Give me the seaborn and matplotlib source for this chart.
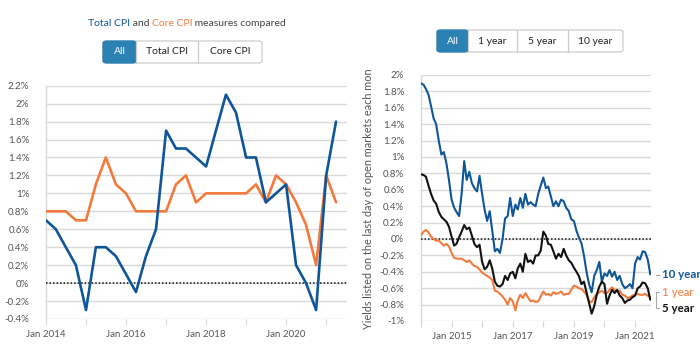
import numpy as np
import pandas as pd
import matplotlib
matplotlib.use("Agg")
import matplotlib.pyplot as plt
import seaborn as sns
from matplotlib.patches import FancyBboxPatch, Rectangle
from matplotlib.lines import Line2D
from matplotlib.transforms import Bbox, TransformedBbox

# ---------------- data ----------------
cpi_dates = pd.date_range("2014-01-01", "2021-04-01", freq="QS")
total_cpi = [0.7, 0.6, 0.4, 0.2, -0.3, 0.4, 0.4, 0.3, 0.1, -0.1, 0.3, 0.6,
             1.7, 1.5, 1.5, 1.4, 1.3, 1.7, 2.1, 1.9, 1.4, 1.4, 0.9, 1.0,
             1.1, 0.2, 0.0, -0.3, 1.2, 1.8]
core_cpi = [0.8, 0.8, 0.8, 0.7, 0.7, 1.1, 1.4, 1.1, 1.0, 0.8, 0.8, 0.8,
            0.8, 1.1, 1.2, 0.9, 1.0, 1.0, 1.0, 1.0, 1.0, 1.1, 0.9, 1.2,
            1.1, 0.9, 0.65, 0.2, 1.2, 0.9]

yield_dates = pd.date_range("2014-01-01", "2021-07-01", freq="MS")
yield_10 = [1.90, 1.88, 1.83, 1.76, 1.62, 1.47, 1.40, 1.20, 1.03, 1.06, 0.92, 0.72,
            0.48, 0.38, 0.33, 0.28, 0.55, 0.95, 0.72, 0.82, 0.68, 0.62, 0.58, 0.77,
            0.55, 0.35, 0.22, 0.34, 0.10, -0.15, -0.12, -0.17, 0.00, 0.25, 0.28, 0.50,
            0.28, 0.42, 0.36, 0.50, 0.38, 0.55, 0.42, 0.45, 0.42, 0.40, 0.55, 0.65,
            0.75, 0.62, 0.64, 0.52, 0.40, 0.46, 0.40, 0.48, 0.46, 0.38, 0.34, 0.24,
            0.22, 0.10, 0.02, -0.05, -0.20, -0.40, -0.55, -0.65, -0.45, -0.38, -0.28, -0.52,
            -0.42, -0.45, -0.38, -0.46, -0.40, -0.50, -0.45, -0.55, -0.60, -0.58, -0.55, -0.60,
            -0.30, -0.22, -0.25, -0.15, -0.16, -0.25, -0.43]
yield_1 = [0.04, 0.09, 0.11, 0.08, 0.03, 0.00, -0.02, -0.02, -0.05, -0.08, -0.06, -0.09,
           -0.17, -0.23, -0.24, -0.24, -0.24, -0.26, -0.28, -0.26, -0.30, -0.33, -0.34, -0.37,
           -0.41, -0.43, -0.45, -0.47, -0.50, -0.63, -0.64, -0.67, -0.70, -0.74, -0.80, -0.72,
           -0.76, -0.87, -0.75, -0.68, -0.72, -0.66, -0.71, -0.76, -0.75, -0.77, -0.76, -0.70,
           -0.64, -0.68, -0.67, -0.69, -0.65, -0.67, -0.66, -0.64, -0.68, -0.67, -0.67, -0.62,
           -0.57, -0.58, -0.60, -0.61, -0.64, -0.68, -0.76, -0.77, -0.71, -0.67, -0.65, -0.63,
           -0.66, -0.66, -0.62, -0.59, -0.62, -0.64, -0.63, -0.68, -0.69, -0.72, -0.71, -0.69,
           -0.68, -0.67, -0.68, -0.68, -0.67, -0.69, -0.71]
yield_5 = [0.79, 0.78, 0.76, 0.65, 0.55, 0.47, 0.43, 0.33, 0.27, 0.24, 0.21, 0.15,
           0.03, -0.08, -0.06, 0.02, 0.09, 0.17, 0.12, 0.14, 0.04, -0.06, -0.10, -0.07,
           -0.28, -0.37, -0.34, -0.26, -0.36, -0.52, -0.57, -0.58, -0.55, -0.45, -0.50, -0.42,
           -0.40, -0.48, -0.36, -0.30, -0.40, -0.18, -0.28, -0.26, -0.30, -0.20, -0.20, -0.14,
           0.09, 0.04, -0.06, -0.07, -0.15, -0.24, -0.18, -0.22, -0.12, -0.20, -0.26, -0.29,
           -0.35, -0.40, -0.45, -0.55, -0.52, -0.65, -0.78, -0.91, -0.82, -0.68, -0.58, -0.52,
           -0.55, -0.79, -0.69, -0.62, -0.66, -0.62, -0.69, -0.72, -0.78, -0.75, -0.74, -0.71,
           -0.69, -0.60, -0.58, -0.53, -0.54, -0.60, -0.74]

left_yticks = [-0.4, -0.2, 0, 0.2, 0.4, 0.6, 0.8, 1.0, 1.2, 1.4, 1.6, 1.8, 2.0, 2.2]
left_ylabels = ["-0.4%", "-0.2%", "0%", "0.2%", "0.4%", "0.6%", "0.8%", "1%",
                "1.2%", "1.4%", "1.6%", "1.8%", "2%", "2.2%"]
left_xticks = pd.date_range("2014-01-01", "2021-01-01", freq="YS")
left_xlabels = ["Jan 2014", "", "Jan 2016", "", "Jan 2018", "", "Jan 2020", ""]

right_yticks = [-1.0, -0.8, -0.6, -0.4, -0.2, 0, 0.2, 0.4, 0.6, 0.8, 1.0, 1.2, 1.4, 1.6, 1.8, 2.0]
right_ylabels = ["-1%", "-0.8%", "-0.6%", "-0.4%", "-0.2%", "0%", "0.2%", "0.4%", "0.6%",
                 "0.8%", "1%", "1.2%", "1.4%", "1.6%", "1.8%", "2%"]
right_xticks = pd.date_range("2014-01-01", "2021-01-01", freq="YS")
right_xlabels = ["", "Jan 2015", "", "Jan 2017", "", "Jan 2019", "", "Jan 2021"]

left_buttons = ["All", "Total CPI", "Core CPI"]
right_buttons = ["All", "1 year", "5 year", "10 year"]

# ---------------- style ----------------
BLUE = "#0f5699"
ORANGE = "#f37a3c"
BLACK = "#111111"
BTN = "#2b80b4"
GRID = "#d9d9d9"
TICK = "#555555"

sns.set_theme(style="white")
plt.rcParams["font.family"] = ["Lato", "DejaVu Sans"]

W, H = 700, 355
fig = plt.figure(figsize=(7.0, 3.55), dpi=100)

def fx(px):
    return px / W

def fy(py):
    return 1 - py / H

xmin = pd.Timestamp("2014-01-01")
xmax = pd.Timestamp("2021-07-10")

def style_axes(ax, yticks, ylabels, xticks, xlabels, ylim):
    ax.set_ylim(*ylim)
    ax.set_xlim(xmin, xmax)
    ax.set_yticks(yticks)
    ax.set_yticklabels(ylabels)
    ax.set_xticks(xticks)
    ax.set_xticklabels(xlabels)
    ax.grid(axis="y", color=GRID, linewidth=1.0)
    ax.grid(axis="x", visible=False)
    for s in ["top", "right", "bottom"]:
        ax.spines[s].set_visible(False)
    ax.spines["left"].set_color(GRID)
    ax.spines["left"].set_linewidth(1.0)
    ax.tick_params(axis="y", length=0, pad=12, labelsize=7, labelcolor=TICK)
    ax.tick_params(axis="x", length=4, width=0.9, color=GRID, direction="out",
                   pad=4, labelsize=7, labelcolor=TICK, bottom=True)
    ax.set_xlabel("")
    ax.set_ylabel("")
    ax.axhline(0, color=BLACK, linewidth=1.1, linestyle=(0, (1, 1.3)), zorder=3)

# ---------------- left chart ----------------
axL = fig.add_axes([fx(46), fy(319), fx(347) - fx(46), fy(85.7) - fy(319)])
sns.lineplot(x=cpi_dates, y=core_cpi, ax=axL, color=ORANGE, linewidth=1.9, zorder=4)
sns.lineplot(x=cpi_dates, y=total_cpi, ax=axL, color=BLUE, linewidth=1.9, zorder=5)
style_axes(axL, left_yticks, left_ylabels, left_xticks, left_xlabels, (-0.4, 2.2))
for ln in axL.get_lines():
    ln.set_solid_joinstyle("round")
    ln.set_solid_capstyle("round")

# ---------------- right chart ----------------
axR = fig.add_axes([fx(421), fy(321), fx(651) - fx(421), fy(75) - fy(321)])
sns.lineplot(x=yield_dates, y=yield_1, ax=axR, color=ORANGE, linewidth=1.5, zorder=4)
sns.lineplot(x=yield_dates, y=yield_10, ax=axR, color=BLUE, linewidth=1.5, zorder=5)
sns.lineplot(x=yield_dates, y=yield_5, ax=axR, color=BLACK, linewidth=1.5, zorder=6)
style_axes(axR, right_yticks, right_ylabels, right_xticks, right_xlabels, (-1.0, 2.0))
for ln in axR.get_lines():
    ln.set_solid_joinstyle("round")

# ---------------- title (multi-coloured) ----------------
renderer = fig.canvas.get_renderer()
parts = [("Total CPI", BLUE), (" and ", "#444444"), ("Core CPI", ORANGE),
         (" measures compared", "#444444")]
texts = [fig.text(0, fy(24), p, color=c, fontsize=7.5, va="center", ha="left")
         for p, c in parts]
widths = [t.get_window_extent(renderer).width for t in texts]
x0 = 187 - sum(widths) / 2
for t, w in zip(texts, widths):
    t.set_x(fx(x0))
    x0 += w

# ---------------- buttons ----------------
def buttons(labels, edges, top, bottom):
    outer = FancyBboxPatch((fx(edges[0]), fy(bottom)), fx(edges[-1]) - fx(edges[0]),
                           fy(top) - fy(bottom), boxstyle="round,pad=0,rounding_size=0.006",
                           transform=fig.transFigure, facecolor="white",
                           edgecolor="#cccccc", linewidth=0.9)
    fig.patches.append(outer)
    for i, lab in enumerate(labels):
        l, r = edges[i], edges[i + 1]
        if i == 0:
            fig.patches.append(FancyBboxPatch((fx(l), fy(bottom)), fx(r) - fx(l),
                                              fy(top) - fy(bottom),
                                              boxstyle="round,pad=0,rounding_size=0.006",
                                              transform=fig.transFigure, facecolor=BTN,
                                              edgecolor=BTN, linewidth=0.9))
        else:
            fig.lines.append(Line2D([fx(l), fx(l)], [fy(top), fy(bottom)],
                                    transform=fig.transFigure, color="#cccccc", linewidth=0.9))
        fig.text(fx((l + r) / 2), fy((top + bottom) / 2), lab, ha="center", va="center",
                 fontsize=7.5, color="white" if i == 0 else "#222222")

buttons(left_buttons, [103, 136, 198, 262], 41, 63)
buttons(right_buttons, [437, 468, 517, 568, 623], 30, 52)

# ---------------- right y label (clipped) ----------------
yl = fig.text(fx(368), fy(329), "Yields listed on the last day of open markets each month",
              rotation=90, ha="center", va="bottom", fontsize=7.8, color="#555555")
yl.set_clip_box(TransformedBbox(Bbox([[0, 0], [1, fy(69)]]), fig.transFigure))
yl.set_clip_on(True)

# ---------------- series labels ----------------
fig.text(fx(662), fy(275), "10 year", color=BLUE, fontsize=8.3, fontweight="bold",
         va="center", ha="left")
fig.lines.append(Line2D([fx(656), fx(659)], [fy(275), fy(275)], transform=fig.transFigure,
                        color="#999999", linewidth=0.8))
fig.text(fx(662), fy(293), "1 year", color=ORANGE, fontsize=8.3, va="center", ha="left")
fig.text(fx(662), fy(308), "5 year", color=BLACK, fontsize=8.3, fontweight="bold",
         va="center", ha="left")
fig.lines.append(Line2D([fx(659), fx(656), fx(656), fx(659)],
                        [fy(292), fy(292), fy(308), fy(308)], transform=fig.transFigure,
                        color="#aaaaaa", linewidth=0.8))

fig.savefig("out.png", dpi=100)
